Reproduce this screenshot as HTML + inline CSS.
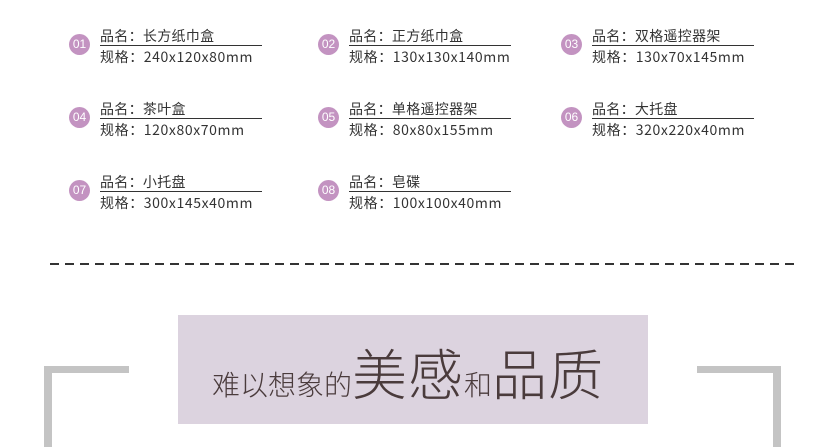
<!DOCTYPE html>
<html><head><meta charset="utf-8"><style>
body{margin:0;width:825px;height:447px;background:#fff;position:relative;overflow:hidden;font-family:"Noto Sans CJK SC","Liberation Sans",sans-serif;color:#333;}
.it{position:absolute;width:240px;height:50px;}
.c{position:absolute;left:-31px;top:6px;width:21px;height:21px;border-radius:50%;background:#c393c1;color:#fff;font-size:12px;line-height:21px;text-align:center;font-family:"Liberation Sans",sans-serif;}
.n{position:absolute;left:0;top:0;width:162px;height:17px;border-bottom:1px solid #333;font-size:14px;line-height:16px;white-space:nowrap;letter-spacing:0.3px;}
.s{position:absolute;left:0;top:21px;font-size:14px;line-height:16px;white-space:nowrap;letter-spacing:0.6px;}
.box{position:absolute;left:178px;top:315px;width:470px;height:109px;background:#dcd3df;}
.br{position:absolute;background:#c4c4c4;}
.t{position:absolute;left:212px;top:331px;white-space:nowrap;color:#4a3b3c;font-family:"Noto Sans CJK SC",sans-serif;font-weight:300;}
.sm{font-size:28px;}
.bg{font-size:55px;letter-spacing:1px;}
</style></head><body>
<div class="it" style="left:100px;top:28px"><div class="c">01</div><div class="n">品名：长方纸巾盒</div><div class="s">规格：240x120x80mm</div></div>
<div class="it" style="left:349px;top:28px"><div class="c">02</div><div class="n">品名：正方纸巾盒</div><div class="s">规格：130x130x140mm</div></div>
<div class="it" style="left:592px;top:28px"><div class="c">03</div><div class="n">品名：双格遥控器架</div><div class="s">规格：130x70x145mm</div></div>
<div class="it" style="left:100px;top:101px"><div class="c">04</div><div class="n">品名：茶叶盒</div><div class="s">规格：120x80x70mm</div></div>
<div class="it" style="left:349px;top:101px"><div class="c">05</div><div class="n">品名：单格遥控器架</div><div class="s">规格：80x80x155mm</div></div>
<div class="it" style="left:592px;top:101px"><div class="c">06</div><div class="n">品名：大托盘</div><div class="s">规格：320x220x40mm</div></div>
<div class="it" style="left:100px;top:174px"><div class="c">07</div><div class="n">品名：小托盘</div><div class="s">规格：300x145x40mm</div></div>
<div class="it" style="left:349px;top:174px"><div class="c">08</div><div class="n">品名：皂碟</div><div class="s">规格：100x100x40mm</div></div>
<svg style="position:absolute;left:0;top:0" width="825" height="447"><line x1="50" y1="264" x2="796" y2="264" stroke="#333" stroke-width="2" stroke-dasharray="9,6"/></svg>
<div class="br" style="left:44px;top:366px;width:85px;height:7px"></div>
<div class="br" style="left:44px;top:366px;width:8px;height:81px"></div>
<div class="br" style="left:697px;top:366px;width:84px;height:7px"></div>
<div class="br" style="left:773px;top:366px;width:8px;height:81px"></div>
<div class="box"></div>
<div class="t"><span class="sm">难以想象的</span><span class="bg">美感</span><span class="sm">和</span><span class="bg">品质</span></div>
</body></html>
